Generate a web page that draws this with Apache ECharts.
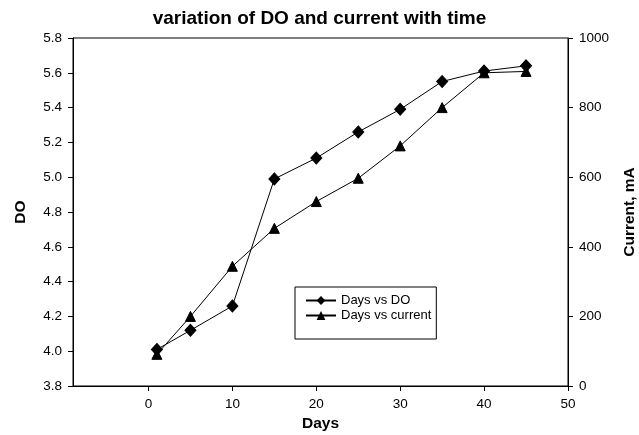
<!DOCTYPE html>
<html>
<head>
<meta charset="utf-8">
<script src="https://cdn.jsdelivr.net/npm/echarts@6/dist/echarts.min.js"></script>
<style>
  html, body { margin: 0; padding: 0; background: #fff; }
  #chart { width: 639px; height: 435px; }
</style>
</head>
<body>
<div id="chart"></div>
<script>
const days = [1, 5, 10, 15, 20, 25, 30, 35, 40, 45];
const doValues = [4.01, 4.12, 4.26, 4.99, 5.11, 5.26, 5.39, 5.55, 5.61, 5.64];
const currentValues = [91, 200, 344, 453, 530, 597, 690, 800, 900, 904];
const dayTicks = [0, 10, 20, 30, 40, 50];

const font = "'Liberation Sans', Arial, sans-serif";
const ink = "#000";

const axisCommon = {
  axisLine: { show: true, onZero: false, lineStyle: { color: ink, width: 1 } },
  axisTick: { show: true, inside: false, length: 5, lineStyle: { color: ink } },
  splitLine: { show: false },
  nameTextStyle: { fontFamily: font, fontSize: 15.5, fontWeight: "bold", color: ink },
};

const chart = echarts.init(document.getElementById("chart"));
chart.setOption({
  animation: false,
  backgroundColor: "#fff",
  title: {
    text: "variation of DO and current with time",
    left: "center",
    top: 9,
    padding: 0,
    textStyle: { fontFamily: font, fontSize: 19, fontWeight: "bold", color: ink },
  },
  grid: {
    left: 73,
    right: 71,
    top: 38,
    bottom: 49,
    show: true,
    borderColor: ink,
    borderWidth: 1,
    outerBoundsMode: "none",
  },
  legend: {
    orient: "vertical",
    left: 295,
    top: 287,
    padding: [7, 5, 17, 10],
    itemWidth: 30,
    itemHeight: 11,
    itemGap: 2,
    borderColor: ink,
    borderWidth: 1,
    textStyle: { fontFamily: font, fontSize: 13, color: ink },
    data: ["Days vs DO", "Days vs current"],
  },
  xAxis: {
    ...axisCommon,
    type: "value",
    min: -9,
    max: 50,
    name: "Days",
    nameLocation: "middle",
    nameGap: 29,
    axisTick: { ...axisCommon.axisTick, customValues: dayTicks },
    axisLabel: {
      customValues: dayTicks,
      margin: 11,
      fontFamily: font,
      fontSize: 13.5,
      color: ink,
    },
  },
  yAxis: [
    {
      ...axisCommon,
      type: "value",
      position: "left",
      min: 3.8,
      max: 5.8,
      interval: 0.2,
      name: "DO",
      nameLocation: "middle",
      nameRotate: 90,
      nameGap: 44,
      axisLabel: {
        margin: 11,
        fontFamily: font,
        fontSize: 13.5,
        color: ink,
        formatter: (v) => v.toFixed(1),
      },
    },
    {
      ...axisCommon,
      type: "value",
      position: "right",
      min: 0,
      max: 1000,
      interval: 200,
      name: "Current, mA",
      nameLocation: "middle",
      nameRotate: 90,
      nameGap: 54,
      axisLabel: {
        margin: 11,
        fontFamily: font,
        fontSize: 13.5,
        color: ink,
        formatter: (v) => String(v),
      },
    },
  ],
  series: [
    {
      name: "Days vs current",
      type: "line",
      yAxisIndex: 1,
      data: days.map((d, i) => [d, currentValues[i]]),
      symbol: "triangle",
      symbolSize: 10,
      lineStyle: { color: ink, width: 1 },
      itemStyle: { color: ink, borderColor: ink },
      z: 2,
    },
    {
      name: "Days vs DO",
      type: "line",
      yAxisIndex: 0,
      data: days.map((d, i) => [d, doValues[i]]),
      symbol: "diamond",
      symbolSize: [11, 12],
      lineStyle: { color: ink, width: 1 },
      itemStyle: { color: ink, borderColor: ink },
      z: 3,
    },
  ],
});
</script>
</body>
</html>
